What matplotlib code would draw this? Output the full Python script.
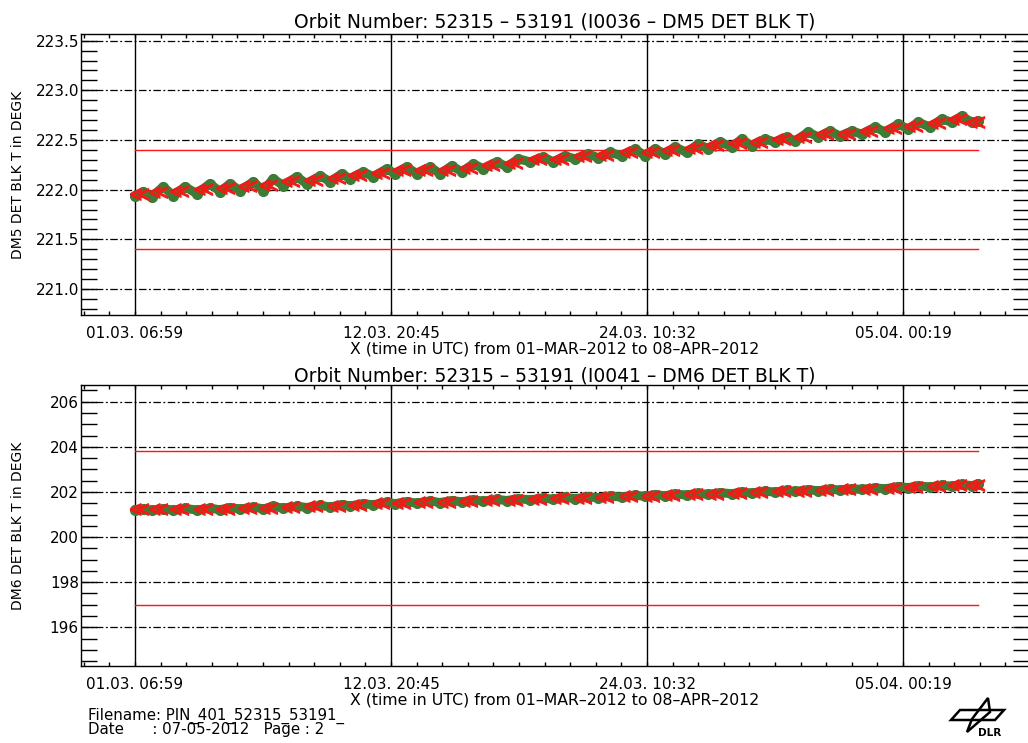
import numpy as np
import matplotlib
matplotlib.use("Agg")
import matplotlib.pyplot as plt
from matplotlib.patches import Polygon

plt.rcParams["font.family"] = ["DejaVu Sans"]

# ---- data -------------------------------------------------------------
# time axis: days since 01-MAR-2012 00:00 UTC
t_days = [0.29, 0.67, 1.05, 1.57, 2.02, 2.55, 3.08, 3.68, 4.13, 4.59,
          5.04, 5.64, 6.09, 6.54, 7.00, 7.60, 8.05, 8.66, 9.11, 9.64,
          10.01, 10.61, 11.06, 11.67, 12.05, 12.57, 13.03, 13.63, 14.08, 14.61,
          15.06, 15.59, 16.04, 16.64, 17.10, 17.62, 18.15, 18.75, 19.20, 19.73,
          20.18, 20.78, 21.24, 21.77, 22.29, 22.90, 23.35, 23.80, 24.25, 24.70,
          25.23, 25.76, 26.21, 26.74, 27.27, 27.72, 28.17, 28.77, 29.22, 29.75,
          30.13, 30.73, 31.18, 31.71, 32.16, 32.69, 33.14, 33.75, 34.20, 34.80,
          35.25, 35.70, 36.23, 36.76, 37.21, 37.66, 38.12, 38.42]

dm5_temp = [221.94, 221.98, 221.93, 222.03, 221.94, 222.03, 221.96, 222.06, 221.98, 222.06,
            221.99, 222.08, 221.99, 222.11, 222.04, 222.13, 222.06, 222.14, 222.08, 222.16,
            222.11, 222.18, 222.13, 222.21, 222.16, 222.23, 222.16, 222.23, 222.16, 222.24,
            222.18, 222.26, 222.21, 222.28, 222.23, 222.31, 222.28, 222.33, 222.28, 222.34,
            222.31, 222.36, 222.32, 222.375, 222.34, 222.41, 222.34, 222.41, 222.36, 222.43,
            222.375, 222.46, 222.41, 222.48, 222.43, 222.51, 222.44, 222.51, 222.48, 222.53,
            222.49, 222.58, 222.53, 222.59, 222.54, 222.59, 222.56, 222.63, 222.58, 222.66,
            222.61, 222.68, 222.63, 222.71, 222.68, 222.74, 222.68, 222.69]

dm6_temp = [201.22, 201.25, 201.19, 201.26, 201.19, 201.27, 201.20, 201.28, 201.21, 201.31,
            201.24, 201.33, 201.25, 201.36, 201.28, 201.37, 201.31, 201.41, 201.33, 201.44,
            201.38, 201.48, 201.43, 201.55, 201.48, 201.57, 201.50, 201.60, 201.53, 201.62,
            201.56, 201.65, 201.59, 201.67, 201.62, 201.70, 201.65, 201.73, 201.67, 201.76,
            201.70, 201.79, 201.74, 201.82, 201.77, 201.86, 201.80, 201.88, 201.83, 201.91,
            201.86, 201.94, 201.89, 201.97, 201.92, 202.00, 201.95, 202.04, 201.99, 202.07,
            202.02, 202.10, 202.05, 202.13, 202.08, 202.15, 202.11, 202.18, 202.14, 202.24,
            202.19, 202.27, 202.22, 202.30, 202.25, 202.33, 202.28, 202.34]

# second symbol set (warming phase of each orbit cycle)
t_red = [0.48, 1.31, 2.29, 3.38, 4.36, 5.34, 6.32, 7.30, 8.36, 9.38,
         10.31, 11.37, 12.31, 13.33, 14.35, 15.33, 16.34, 17.36, 18.45, 19.47,
         20.48, 21.51, 22.60, 23.58, 24.48, 25.50, 26.48, 27.50, 28.47, 29.49,
         30.43, 31.45, 32.43, 33.45, 34.50, 35.48, 36.50, 37.44, 38.27]
dm5_red = [221.96, 221.98, 221.985, 222.01, 222.02, 222.035, 222.05, 222.085, 222.10, 222.12,
           222.145, 222.17, 222.195, 222.195, 222.20, 222.22, 222.245, 222.27, 222.305, 222.31,
           222.335, 222.35, 222.375, 222.375, 222.395, 222.42, 222.445, 222.47, 222.475, 222.505,
           222.535, 222.56, 222.565, 222.595, 222.62, 222.645, 222.67, 222.71, 222.685]
dm6_red = [201.235, 201.225, 201.23, 201.24, 201.26, 201.285, 201.305, 201.325, 201.36, 201.385,
           201.43, 201.49, 201.525, 201.55, 201.575, 201.605, 201.63, 201.66, 201.69, 201.715,
           201.745, 201.78, 201.815, 201.84, 201.87, 201.90, 201.93, 201.96, 201.995, 202.03,
           202.06, 202.09, 202.115, 202.145, 202.19, 202.23, 202.26, 202.29, 202.31]

# limit lines
dm5_limits = [222.4, 221.4]
dm6_limits = [203.8, 197.0]

# x tick positions (days since 01-MAR-2012 00:00) and their labels
x_major = [0.291, 11.865, 23.439, 35.013]
x_labels = ["01.03. 06:59", "12.03. 20:45", "24.03. 10:32", "05.04. 00:19"]

titles = ["Orbit Number: 52315 \u2013 53191 (I0036 \u2013 DM5 DET BLK T)",
          "Orbit Number: 52315 \u2013 53191 (I0041 \u2013 DM6 DET BLK T)"]
ylabels = ["DM5 DET BLK T in DEGK", "DM6 DET BLK T in DEGK"]
xlabel = "X (time in UTC) from 01\u2013MAR\u20132012 to 08\u2013APR\u20132012"

# ---- figure -----------------------------------------------------------
W, H = 1028, 743
fig = plt.figure(figsize=(W / 100, H / 100), dpi=100)

GREEN = "#3b7d36"
RED = "#ff1414"


def axes_box(left, top, right, bottom):
    return [left / W, 1 - bottom / H, (right - left) / W, (bottom - top) / H]


ax1 = fig.add_axes(axes_box(81, 34, 1029, 315))
ax2 = fig.add_axes(axes_box(81, 385, 1029, 666))

xlim = (-2.150, 40.708)
t_start, t_end = t_days[0], t_days[-1]

panels = [
    (ax1, dm5_temp, dm5_red, dm5_limits, (220.738, 223.567), 0.5, 0.1, "%.1f", titles[0], ylabels[0], 5),
    (ax2, dm6_temp, dm6_red, dm6_limits, (194.285, 206.74), 2.0, 0.5, "%d", titles[1], ylabels[1], 2),
]

step = x_major[1] - x_major[0]
for ax, vals, red_vals, limits, ylim, ymaj, ymin, fmt, title, ylab, tpad in panels:
    ax.set_xlim(*xlim)
    ax.set_ylim(*ylim)

    # vertical solid lines at the labelled times
    for xm in x_major:
        ax.axvline(xm, color="black", lw=1.0, zorder=1)

    # dash-dot horizontal grid at major y ticks
    ax.yaxis.set_major_locator(matplotlib.ticker.MultipleLocator(ymaj))
    ax.yaxis.set_minor_locator(matplotlib.ticker.MultipleLocator(ymin))
    ax.yaxis.set_major_formatter(matplotlib.ticker.FormatStrFormatter(fmt))
    ax.grid(axis="y", which="major", color="black", lw=0.9,
            linestyle=(0, (6, 2, 1.5, 2)), zorder=1)

    # limit lines
    for lim in limits:
        ax.plot([t_start, t_end], [lim, lim], color=RED, lw=1.0, zorder=2)

    # measurements
    ax.plot(t_days, vals, color=GREEN, lw=6.5, solid_capstyle="round",
            solid_joinstyle="round", zorder=3)
    ax.plot(t_days, vals, ls="none", marker="o", ms=7, color=GREEN,
            mec=GREEN, zorder=3)
    ax.plot(t_red, red_vals, ls="none", marker=r"$\ll$", ms=13, color=RED,
            mec=RED, mew=0.8, zorder=4)

    # ticks
    ax.set_xticks(x_major)
    ax.set_xticklabels(x_labels)
    k0 = int(np.floor((xlim[0] - x_major[0]) / (step / 10)))
    k1 = int(np.ceil((xlim[1] - x_major[0]) / (step / 10)))
    minors = [x_major[0] + k * step / 10 for k in range(k0, k1 + 1)]
    minors = [m for m in minors if xlim[0] < m < xlim[1]]
    ax.set_xticks(minors, minor=True)

    ax.tick_params(axis="x", which="both", direction="in", top=True, bottom=True,
                   length=3, width=1, labelsize=11, pad=8, colors="black")
    ax.tick_params(axis="y", which="both", direction="in", left=True, right=True,
                   length=11.5, width=1, labelsize=11, pad=1.5)

    for sp in ax.spines.values():
        sp.set_linewidth(1.0)

    ax.set_title(title, fontsize=13.5, pad=tpad)
    ax.set_xlabel(xlabel, fontsize=11.3, labelpad=0)
    ax.set_ylabel(ylab, fontsize=10)
    ax.yaxis.set_label_coords(-0.0595, 0.5)

# ---- footer -----------------------------------------------------------
fig.text(88 / W, 1 - 708 / H,
         "Filename: PIN_401_52315_53191_\nDate      : 07-05-2012   Page : 2",
         va="top", ha="left", fontsize=10.8, linespacing=0.78)


# DLR logo
def px(x, y):
    return (x / W, 1 - y / H)


wing = Polygon([px(951, 720), px(960, 710), px(1004, 710), px(995, 720)],
               closed=True, fill=False, ec="black", lw=1.8,
               transform=fig.transFigure)
body = Polygon([px(988, 698), px(990, 712), px(967, 732), px(972, 719)],
               closed=True, fill=False, ec="black", lw=1.8,
               transform=fig.transFigure)
fig.add_artist(wing)
fig.add_artist(body)
fig.text(*px(978, 733), "DLR", fontsize=7.5, fontweight="bold", va="center", ha="left")

fig.savefig("out.png", dpi=100)
